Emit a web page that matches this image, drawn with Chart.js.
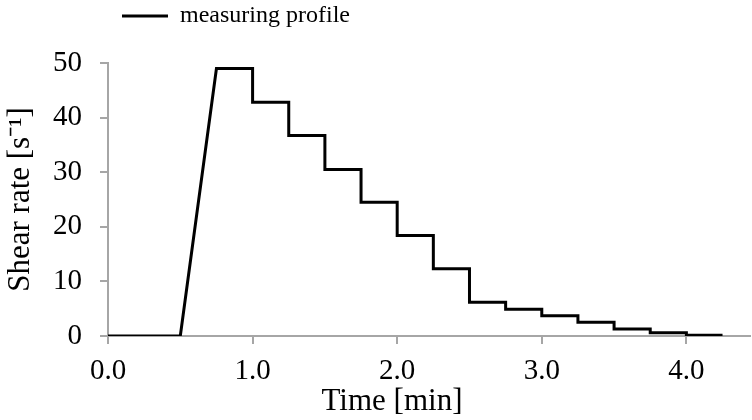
<!DOCTYPE html>
<html>
<head>
<meta charset="utf-8">
<script src="https://cdn.jsdelivr.net/npm/chart.js@4.4.0/dist/chart.umd.min.js"></script>
<style>
  html, body { margin: 0; padding: 0; background: #fff; overflow: hidden; }
  #wrap { width: 752px; height: 420px; }
</style>
</head>
<body>
<div id="wrap"><canvas id="js-canvas-profile" width="752" height="420"></canvas></div>
<script>
// time [min] and shear rate [1/s] (steps drawn as pairs)
const time = [0, 0.5, 0.75, 1.0, 1.0, 1.25, 1.25, 1.5, 1.5, 1.75, 1.75, 2.0, 2.0, 2.25, 2.25,
  2.5, 2.5, 2.75, 2.75, 3.0, 3.0, 3.25, 3.25, 3.5, 3.5, 3.75, 3.75, 4.0, 4.0, 4.25];
const shearRate = [0, 0, 49, 49, 42.8, 42.8, 36.7, 36.7, 30.5, 30.5, 24.5, 24.5, 18.4, 18.4, 12.3,
  12.3, 6.2, 6.2, 4.9, 4.9, 3.7, 3.7, 2.5, 2.5, 1.3, 1.3, 0.6, 0.6, 0.15, 0.15];
const xTicks = [0, 1, 2, 3, 4];
const yTicks = [0, 10, 20, 30, 40, 50];

const serif = "'Liberation Serif', 'Times New Roman', serif";
const axisGrey = '#a6a6a6';

// x title is drawn by hand so it can sit where the original has it
const xTitle = {
  id: 'xTitle',
  afterDraw(chart) {
    const c = chart.ctx;
    c.save();
    c.font = `31px ${serif}`;
    c.fillStyle = '#000';
    c.textAlign = 'center';
    c.textBaseline = 'alphabetic';
    c.fillText('Time [min]', 392, 410);
    c.restore();
  }
};

const ctx = document.getElementById('js-canvas-profile');
new Chart(ctx, {
  type: 'line',
  data: {
    datasets: [{
      label: 'measuring profile',
      data: time.map((t, i) => ({ x: t, y: shearRate[i] })),
      borderColor: '#000',
      backgroundColor: '#000',
      borderWidth: 3,
      pointRadius: 0,
      tension: 0,
      fill: false
    }]
  },
  options: {
    responsive: false,
    animation: false,
    layout: { padding: { top: -10, right: 2, bottom: 0, left: 0 } },
    plugins: {
      legend: {
        display: true,
        position: 'top',
        align: 'start',
        fullSize: false,
        labels: {
          usePointStyle: true,
          pointStyle: 'line',
          pointStyleWidth: 46,
          color: '#000',
          padding: 14,
          font: { family: serif, size: 24 }
        }
      },
      // empty spacer between the legend and the plot
      subtitle: {
        display: true,
        text: ' ',
        weight: 500,
        fullSize: false,
        color: 'rgba(0,0,0,0)',
        font: { size: 10, lineHeight: 1 },
        padding: { top: 15, bottom: 0 }
      },
      tooltip: { enabled: false }
    },
    scales: {
      x: {
        type: 'linear',
        min: 0,
        max: 4.44,
        afterBuildTicks: s => { s.ticks = xTicks.map(v => ({ value: v })); },
        afterFit: s => { s.height = 84; },
        grid: { drawOnChartArea: false, color: axisGrey, tickLength: 8, lineWidth: 2 },
        border: { color: axisGrey, width: 2 },
        ticks: {
          color: '#000',
          padding: 10,
          maxRotation: 0,
          font: { family: serif, size: 29 },
          callback: v => Number(v).toFixed(1)
        }
      },
      y: {
        min: 0,
        max: 50,
        afterBuildTicks: s => { s.ticks = yTicks.map(v => ({ value: v })); },
        afterFit: s => { s.width = 108; },
        grid: { drawOnChartArea: false, color: axisGrey, tickLength: 8, lineWidth: 2 },
        border: { color: axisGrey, width: 2 },
        ticks: {
          color: '#000',
          padding: 18,
          font: { family: serif, size: 29 }
        },
        title: {
          display: true,
          text: 'Shear rate [s⁻¹]',
          color: '#000',
          padding: { top: 2, bottom: 0 },
          font: { family: serif, size: 31 }
        }
      }
    }
  },
  plugins: [xTitle]
});
</script>
</body>
</html>
